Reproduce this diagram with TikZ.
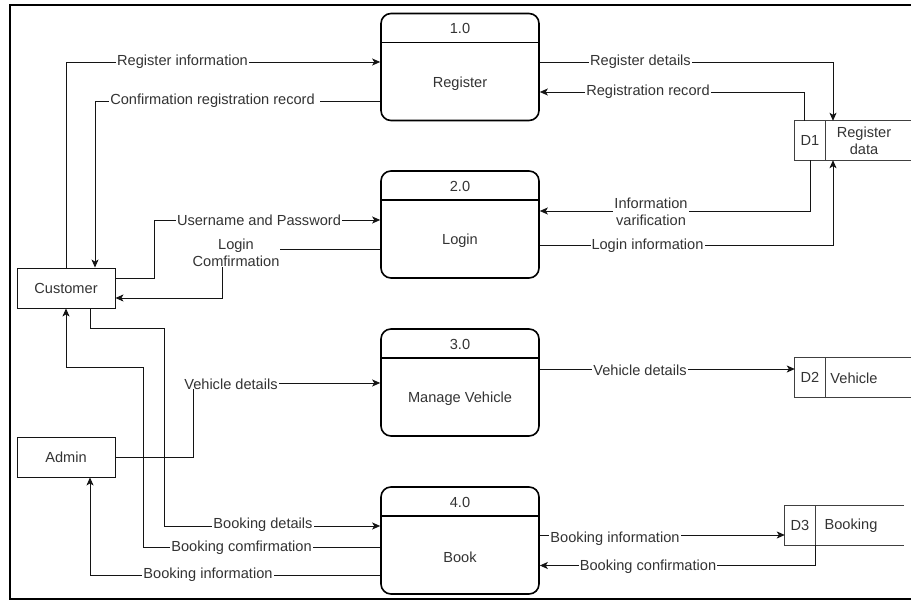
\documentclass[tikz,border=0pt]{standalone}
\usepackage{fontspec}
\setmainfont{Liberation Sans}
\usetikzlibrary{arrows.meta,calc}
\definecolor{ink}{RGB}{51,51,51}
\definecolor{edge}{RGB}{20,20,20}

\begin{document}
\begin{tikzpicture}[
  x=1pt, y=-1pt,
  font=\fontsize{14.6}{17.5}\selectfont,
  proc/.style={draw=black, line width=1.6pt, rounded corners=10pt,
    minimum width=158pt, minimum height=107pt, inner sep=0pt},
  ent/.style={draw=edge, line width=0.9pt, minimum width=98pt,
    minimum height=40pt, inner sep=0pt, text=ink},
  cell/.style={minimum height=39pt, inner sep=0pt, text=ink},
  txt/.style={text=ink, inner sep=0pt, align=center},
  store/.style={draw=black!75, line width=0.9pt},
  wire/.style={draw=edge, line width=0.9pt},
  flow/.style={wire, -{Stealth[length=8pt,width=7pt,inset=2pt]}},
  lbl/.style={fill=white, text=ink, inner xsep=1pt, inner ysep=0pt, align=center}
]
\useasboundingbox (0,0) rectangle (911,601);

% outer frame (its right side lies past the page edge)
\draw[line width=1.6pt, black] (10,5) rectangle (925,599);

% external entities
\node[ent] (cust) at (66,288) {Customer};
\node[ent] (adm)  at (66,457) {Admin};

% processes
\node[proc] (p1) at (460,67)    {};
\node[proc] (p2) at (460,224.5) {};
\node[proc] (p3) at (460,382.5) {};
\node[proc] (p4) at (460,540.5) {};
\foreach \p/\n/\t in {p1/1.0/Register, p2/2.0/Login, p3/3.0/Manage Vehicle, p4/4.0/Book}{
  \draw[line width=1.6pt] ([yshift=-30pt]\p.north west) -- ([yshift=-30pt]\p.north east);
  \node[txt] (\p id) at ([yshift=38.5pt]\p.center) {\n};
  \node[txt] (\p name) at ([yshift=-16.5pt]\p.center) {\t};
}

% data stores: id cell and open-ended name cell
\node[cell, minimum width=30pt] (d1)  at (810,140.5) {D1};
\node[cell, minimum width=89pt] (d1t) at (869.5,140.5) {};
\node[cell, minimum width=30pt] (d2)  at (810,377.5) {D2};
\node[cell, minimum width=89pt] (d2t) at (869.5,377.5) {};
\node[cell, minimum width=30pt] (d3)  at (800,525.5) {D3};
\node[cell, minimum width=89pt] (d3t) at (859.5,525.5) {};
\foreach \s in {d1,d2,d3}{
  \draw[store] (\s t.north east) -- (\s.north west) -- (\s.south west) -- (\s t.south east);
  \draw[store] (\s.north east) -- (\s.south east);
}
\node[txt] (d1name) at (864,141) {Register\\data};
\node[txt] (d2name) at (854,378) {Vehicle};
\node[txt] (d3name) at (851,526) {Booking};

% flows between customer / admin and the processes
\draw[flow] (cust.north) |- ([yshift=5pt]p1.west);
\draw[flow] ([yshift=-34pt]p1.west) -| ([xshift=29pt]cust.north);
\draw[flow] ([yshift=10pt]cust.east) -- ++(39,0) |- ([yshift=4.5pt]p2.west);
\draw[flow] ([yshift=-25pt]p2.west) -- ++(-158,0) |- ([yshift=-10pt]cust.east);
\draw[flow] ([xshift=24pt]cust.south) -- ++(0,20) -- ++(74,0) |- ([yshift=14.5pt]p4.west);
\draw[flow] ([yshift=-6.5pt]p4.west) -- ++(-237,0) -- ++(0,-180) -| (cust.south);
\draw[flow] ([yshift=-34.5pt]p4.west) -| ([xshift=24pt]adm.south);
\draw[flow] (adm.east) -- ++(78,0) |- ([yshift=-0.5pt]p3.west);

% flows between the processes and the data stores
\draw[flow] ([yshift=5pt]p1.east) -| ([xshift=-36.5pt]d1t.north);
\draw[flow] ([xshift=-6pt]d1.north) |- ([yshift=-25pt]p1.east);
\draw[flow] (d1.south) |- ([yshift=13.5pt]p2.east);
\draw[flow] ([yshift=-21pt]p2.east) -| ([xshift=-36.5pt]d1t.south);
\draw[flow] ([yshift=13.5pt]p3.east) -- ([yshift=13.5pt]p3.east -| d2.west);
\draw[flow] ([yshift=5.5pt]p4.east) -- ([yshift=5.5pt]p4.east -| d3.west);
\draw[flow] (d3.south east) |- ([yshift=-25pt]p4.east);

% flow labels
\node[lbl] (l1)  at (182.5,62)  {Register information};
\node[lbl] (l2)  at (214.5,101) {Confirmation registration record\hspace{4pt}};
\node[lbl] (l3)  at (259,220)   {Username and Password};
\node[lbl] (l4)  at (236,253)   {Login\\Comfirmation};
\node[lbl] (l5)  at (231,384)   {Vehicle details};
\node[lbl] (l6)  at (263,525)   {Booking details};
\node[lbl] (l7)  at (241.5,547.5) {Booking comfirmation};
\node[lbl] (l8)  at (208,575)   {Booking information};
\node[lbl] (l9)  at (640.5,62)  {Register details};
\node[lbl] (l10) at (648,92)    {Registration record};
\node[lbl] (l11) at (651,212)   {Information\\varification};
\node[lbl] (l12) at (647.5,246) {Login information};
\node[lbl] (l13) at (640,370)   {Vehicle details};
\node[lbl] (l14) at (615,539)   {Booking information};
\node[lbl] (l15) at (648,567)   {Booking confirmation};
\end{tikzpicture}
\end{document}
